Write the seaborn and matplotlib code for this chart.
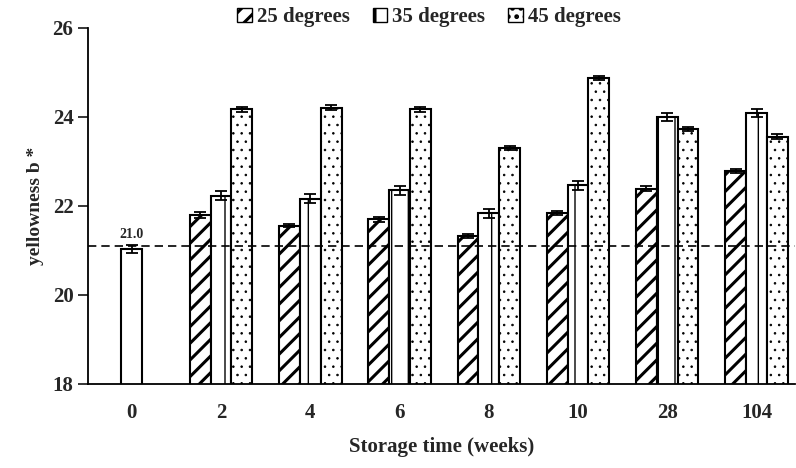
import pandas as pd
import numpy as np
import seaborn as sns
import matplotlib.pyplot as plt
from matplotlib.patches import Patch

# datos
weeks = ['0', '2', '4', '6', '8', '10', '28', '104']
initial = 21.04
initial_err = 0.09
b25 = [21.80, 21.56, 21.70, 21.33, 21.84, 22.39, 22.78]
b35 = [22.23, 22.16, 22.35, 21.84, 22.47, 24.00, 24.09]
b45 = [24.17, 24.21, 24.17, 23.30, 24.87, 23.73, 23.56]
e25 = [0.06, 0.04, 0.06, 0.04, 0.05, 0.06, 0.04]
e35 = [0.10, 0.10, 0.10, 0.10, 0.10, 0.10, 0.09]
e45 = [0.06, 0.05, 0.05, 0.04, 0.04, 0.05, 0.05]
series = ['25 degrees', '35 degrees', '45 degrees']
baseline = 21.09

sns.set_theme(style='white')
plt.rcParams['font.family'] = ['Liberation Serif', 'DejaVu Serif']
plt.rcParams['font.weight'] = 'bold'
plt.rcParams['hatch.linewidth'] = 2.2
plt.rcParams['hatch.color'] = 'black'

rows = []
for i, w in enumerate(weeks[1:]):
    rows.append({'week': w, 'temp': series[0], 'b': b25[i], 'err': e25[i]})
    rows.append({'week': w, 'temp': series[1], 'b': b35[i], 'err': e35[i]})
    rows.append({'week': w, 'temp': series[2], 'b': b45[i], 'err': e45[i]})
df = pd.DataFrame(rows)
df0 = pd.DataFrame({'week': ['0'], 'b': [initial], 'err': [initial_err]})

fig = plt.figure(figsize=(7.96, 4.68), dpi=100)
ax = fig.add_axes([0.1106, 0.1795, 0.888, 0.7607])

hatches = {'25 degrees': '//', '35 degrees': '|', '45 degrees': '..'}
hatch_lw = {'25 degrees': 2.2, '35 degrees': 1.0, '45 degrees': 0.6}


def poner_hatch(p, s):
    p.set_hatch(hatches[s])
    if hasattr(p, 'set_hatch_linewidth'):
        p.set_hatch_linewidth(hatch_lw[s])


sns.barplot(data=df, x='week', y='b', hue='temp', order=weeks, hue_order=series,
            width=0.7, palette=['white'] * 3, edgecolor='black',
            linewidth=1.5, errorbar=None, legend=False, ax=ax)
for cont, s in zip(ax.containers, series):
    sub = df[df['temp'] == s]
    xs = []
    for bar in cont:
        poner_hatch(bar, s)
        xs.append(bar.get_x() + bar.get_width() / 2)
    ax.errorbar(xs, sub['b'], yerr=sub['err'], fmt='none', ecolor='black',
                elinewidth=1.3, capsize=4, capthick=1.3, zorder=5)

n_before = len(ax.patches)
sns.barplot(data=df0, x='week', y='b', order=weeks, width=0.235, color='white',
            edgecolor='black', linewidth=1.5, errorbar=None, ax=ax)
bar0 = ax.patches[n_before]
x0 = bar0.get_x() + bar0.get_width() / 2
ax.errorbar([x0], df0['b'], yerr=df0['err'], fmt='none', ecolor='black',
            elinewidth=1.3, capsize=4, capthick=1.3, zorder=5)
ax.text(x0, initial + 0.17, f'{initial:.1f}', ha='center', va='bottom',
        fontsize=10, fontweight='bold')

ax.axhline(baseline, color='black', ls='--', lw=1.2, dashes=(5, 3), zorder=4)

ax.set_xlim(-0.49, 7.43)
ax.set_ylim(18, 26)
ax.set_yticks([18, 20, 22, 24, 26])
ax.tick_params(axis='y', length=7, width=1.3, labelsize=15, direction='out', left=True)
ax.tick_params(axis='x', length=0, labelsize=15, pad=14)
for lab in ax.get_xticklabels() + ax.get_yticklabels():
    lab.set_fontweight('bold')
sns.despine(ax=ax)
for sp in ['left', 'bottom']:
    ax.spines[sp].set_color('black')
    ax.spines[sp].set_linewidth(1.3)

ax.set_xlabel('Storage time (weeks)', fontsize=15, fontweight='bold', labelpad=10)
ax.set_ylabel('yellowness b *', fontsize=14, fontweight='bold', labelpad=6)

handles = []
for s in series:
    h = Patch(facecolor='white', edgecolor='black', label=s)
    poner_hatch(h, s)
    handles.append(h)
fig.legend(handles=handles, loc='center', bbox_to_anchor=(0.539, 0.963), ncol=3,
           frameon=False, handlelength=0.7, handleheight=0.7, handletextpad=0.25,
           columnspacing=1.1, prop={'size': 15, 'weight': 'bold'})

plt.savefig('out.png', dpi=100)
